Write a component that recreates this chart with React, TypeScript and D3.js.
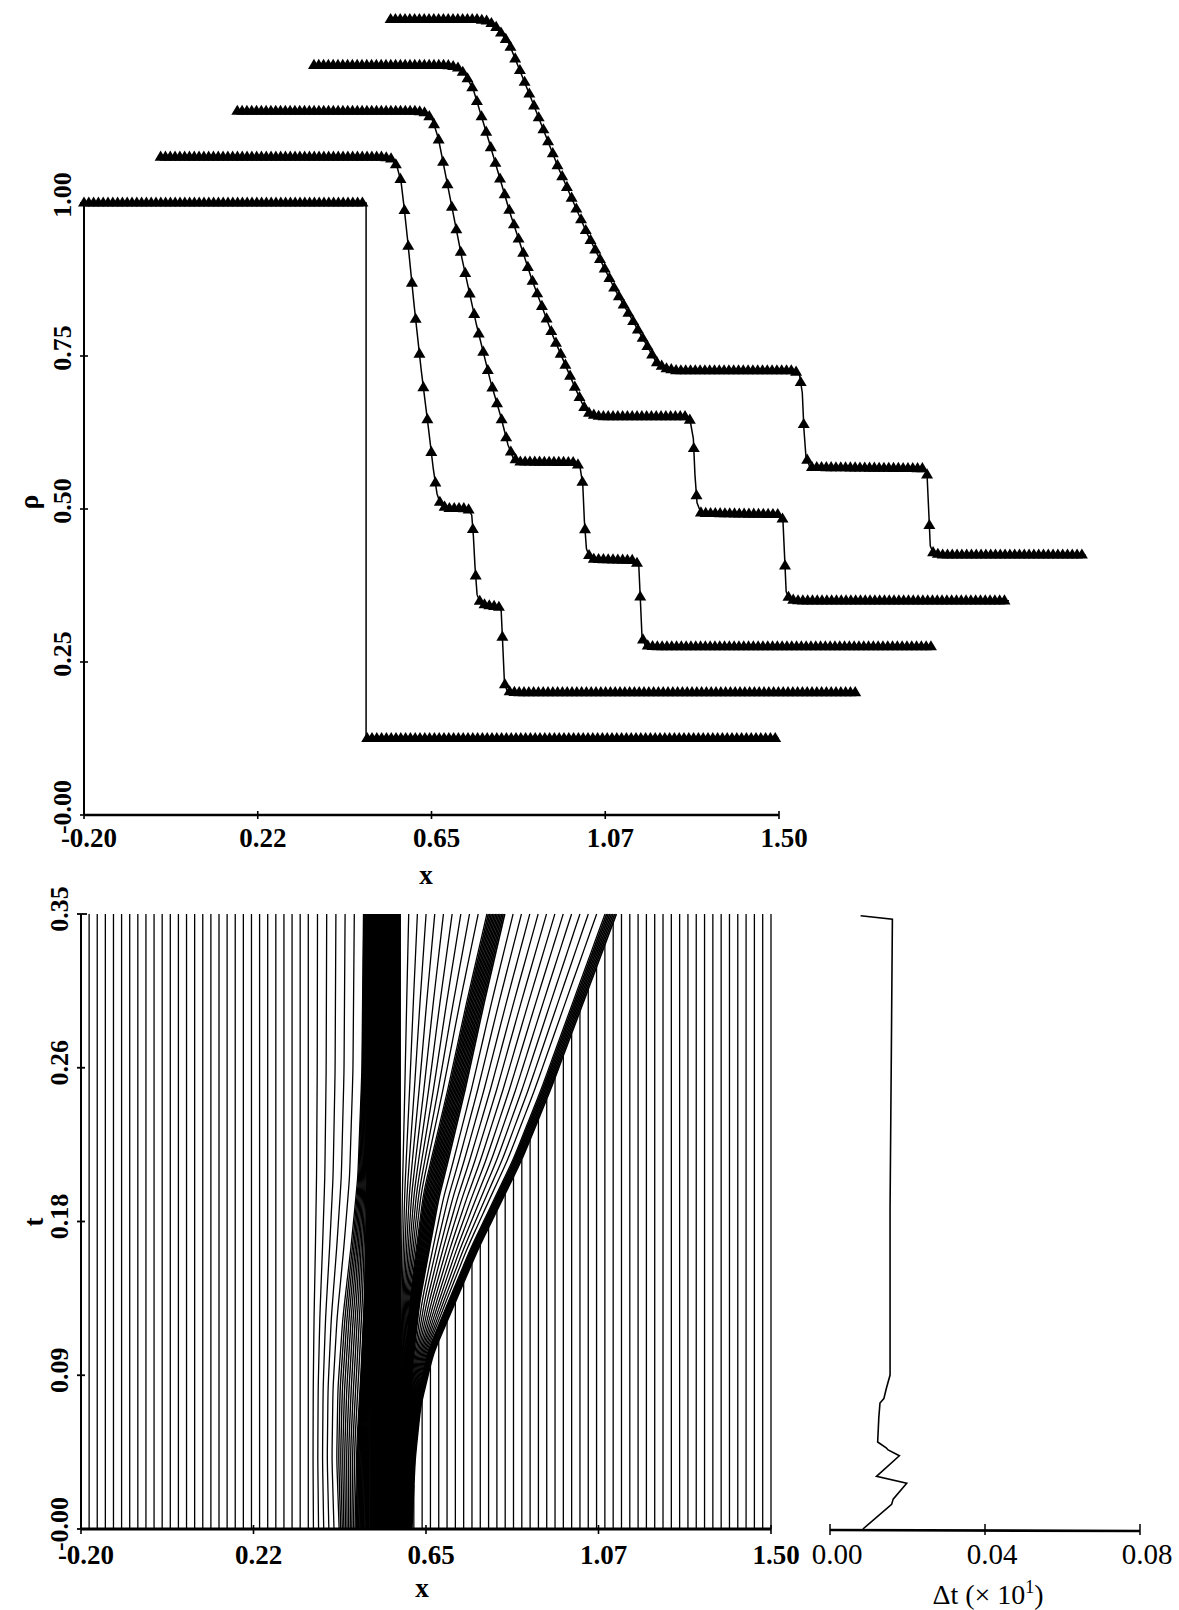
import React from 'react';
import * as d3 from 'd3';

const W = 1179;
const H = 1610;

// ---------- top chart: density profiles (waterfall) ----------
const rhoXTicks = [-0.2, 0.225, 0.65, 1.075, 1.5];
const rhoXTickLabels = ['-0.20', '0.22', '0.65', '1.07', '1.50'];
const rhoYTicks = [0, 0.25, 0.5, 0.75, 1.0];
const rhoYTickLabels = ['-0.00', '0.25', '0.50', '0.75', '1.00'];
const profileTimes = [0, 0.0875, 0.175, 0.2625, 0.35];
const shiftX = 0.1875;
const shiftRho = 0.075;

const rhoProfile0: [number, number][] = [[-0.2, 1], [0.49, 1], [0.49, 0.125], [1.5, 0.125]];
const rhoProfile1: [number, number][] = [[-0.2, 1], [0.345, 1], [0.365, 0.997], [0.378, 0.985], [0.388, 0.96], [0.396, 0.915], [0.404, 0.865], [0.42, 0.758], [0.4375, 0.651], [0.455, 0.557], [0.467, 0.49], [0.476, 0.45], [0.485, 0.432], [0.5, 0.426], [0.54, 0.426], [0.553, 0.424], [0.561, 0.415], [0.565, 0.38], [0.569, 0.33], [0.574, 0.285], [0.583, 0.27], [0.61, 0.266], [0.626, 0.266], [0.633, 0.258], [0.637, 0.2], [0.641, 0.14], [0.648, 0.127], [0.67, 0.125], [1.5, 0.125]];
const rhoProfile2: [number, number][] = [[-0.2, 1], [0.24, 1], [0.262, 0.997], [0.278, 0.985], [0.292, 0.955], [0.315, 0.877], [0.35, 0.758], [0.385, 0.651], [0.42, 0.557], [0.445, 0.5], [0.462, 0.455], [0.475, 0.433], [0.49, 0.427], [0.625, 0.426], [0.638, 0.42], [0.645, 0.39], [0.649, 0.33], [0.654, 0.285], [0.664, 0.268], [0.772, 0.266], [0.782, 0.258], [0.786, 0.2], [0.79, 0.14], [0.798, 0.127], [0.82, 0.125], [1.5, 0.125]];
const rhoProfile3: [number, number][] = [[-0.2, 1], [0.125, 1], [0.15, 0.997], [0.17, 0.985], [0.19, 0.96], [0.2275, 0.877], [0.28, 0.758], [0.3325, 0.651], [0.385, 0.557], [0.4375, 0.475], [0.46, 0.442], [0.475, 0.43], [0.5, 0.426], [0.708, 0.426], [0.72, 0.42], [0.728, 0.39], [0.732, 0.33], [0.737, 0.285], [0.747, 0.268], [0.937, 0.266], [0.947, 0.258], [0.951, 0.2], [0.955, 0.14], [0.963, 0.127], [0.985, 0.125], [1.5, 0.125]];
const rhoProfile4: [number, number][] = [[-0.2, 1], [0.01, 1], [0.04, 0.997], [0.062, 0.985], [0.09, 0.96], [0.14, 0.877], [0.21, 0.758], [0.28, 0.651], [0.35, 0.557], [0.42, 0.475], [0.45, 0.44], [0.47, 0.43], [0.5, 0.426], [0.787, 0.426], [0.8, 0.42], [0.807, 0.39], [0.811, 0.33], [0.816, 0.285], [0.826, 0.268], [1.102, 0.266], [1.112, 0.258], [1.116, 0.2], [1.12, 0.14], [1.128, 0.127], [1.15, 0.125], [1.5, 0.125]];
const rhoProfiles = [rhoProfile0, rhoProfile1, rhoProfile2, rhoProfile3, rhoProfile4];

// ---------- bottom chart: mesh trajectories ----------
const tTicks = [0, 0.0875, 0.175, 0.2625, 0.35];
const tTickLabels = ['-0.00', '0.09', '0.18', '0.26', '0.35'];
const meshXTicks = rhoXTicks;
const meshXTickLabels = rhoXTickLabels;
// feature paths [t, x]
const grayEdgePath: [number, number][] = [[0, 0.436], [0.04, 0.43], [0.08, 0.433], [0.12, 0.445], [0.16, 0.465], [0.2, 0.482], [0.26, 0.492], [0.35, 0.496]];
const blackEdgePath: [number, number][] = [[0, 0.475], [0.05, 0.48], [0.09, 0.49], [0.13, 0.498], [0.2, 0.505], [0.35, 0.507]];
const columnLeft = 0.512;
const columnRight = 0.586;
const contactPath: [number, number][] = [[0, 0.598], [0.05, 0.601], [0.09, 0.607], [0.13, 0.622], [0.19, 0.663], [0.25, 0.725], [0.3, 0.772], [0.35, 0.822]];
const contactHalfWidth: [number, number][] = [[0, 0.003], [0.1, 0.009], [0.2, 0.021], [0.35, 0.022]];
const shockPath: [number, number][] = [[0, 0.612], [0.04, 0.618], [0.07, 0.63], [0.1, 0.66], [0.13, 0.715], [0.16, 0.77], [0.21, 0.875], [0.25, 0.945], [0.3, 1.025], [0.35, 1.105]];
const shockHalfWidth: [number, number][] = [[0, 0.003], [0.1, 0.008], [0.35, 0.014]];
const rightMeshStart = 0.62;
const rightMeshCount = 43;

// ---------- right chart: time step ----------
const dtTicks = [0, 0.04, 0.08];
const dtTickLabels = ['0.00', '0.04', '0.08'];
const dtTimes = [0, 0.014, 0.017, 0.026, 0.03, 0.0417, 0.045, 0.0462, 0.0495, 0.0635, 0.0717, 0.0742, 0.0797, 0.0876, 0.183, 0.263, 0.347, 0.349];
const dtValues = [0.0085, 0.0159, 0.0163, 0.0198, 0.012, 0.0179, 0.015, 0.0145, 0.0123, 0.0126, 0.0129, 0.0139, 0.0145, 0.0155, 0.0155, 0.0158, 0.0161, 0.0079];

// ---------- scales ----------
const xTop = d3.scaleLinear().domain([-0.2, 1.5]).range([84, 779]);
const yTop = d3.scaleLinear().domain([0, 1]).range([815, 203]);
const xBot = d3.scaleLinear().domain([-0.2, 1.5]).range([81, 771]);
const tBot = d3.scaleLinear().domain([0, 0.35]).range([1529, 914]);
const xDt = d3.scaleLinear().domain([0, 0.08]).range([830, 1140]);

const FONT = '"Liberation Serif", "DejaVu Serif", serif';

function interp(path: [number, number][], t: number): number {
  if (t <= path[0][0]) return path[0][1];
  for (let i = 0; i < path.length - 1; i++) {
    const [t0, x0] = path[i];
    const [t1, x1] = path[i + 1];
    if (t <= t1) return x0 + (x1 - x0) * (t - t0) / (t1 - t0);
  }
  return path[path.length - 1][1];
}

function markerPoints(pts: [number, number][], step: number, k: number): [number, number][] {
  const out: [number, number][] = [pts[0]];
  let carry = 0;
  for (let i = 0; i < pts.length - 1; i++) {
    const [x0, y0] = pts[i];
    const [x1, y1] = pts[i + 1];
    const dx = x1 - x0, dy = y1 - y0;
    if (Math.abs(dx) < 0.01) continue;
    const L = Math.hypot(dx, dy / k);
    let pos = step - carry;
    while (pos <= L) {
      const f = pos / L;
      out.push([x0 + dx * f, y0 + dy * f]);
      pos += step;
    }
    carry = L - (pos - step);
  }
  return out;
}

const timeGrid = d3.range(0, 36).map((i) => +(i * 0.01).toFixed(3));

type Group = { left: (t: number) => number; right: (t: number) => number; n: number; first?: boolean; w: number };
type MeshLine = { pts: [number, number][]; w: number };

function buildMesh(): MeshLine[] {
  const cL = (t: number) => interp(contactPath, t) - interp(contactHalfWidth, t);
  const cR = (t: number) => interp(contactPath, t) + interp(contactHalfWidth, t);
  const sL = (t: number) => interp(shockPath, t) - interp(shockHalfWidth, t);
  const sR = (t: number) => interp(shockPath, t) + interp(shockHalfWidth, t);
  const groups: Group[] = [
    { left: () => -0.2, right: () => 0.36, n: 28, first: true, w: 1.3 },
    { left: () => 0.36, right: (t) => interp(grayEdgePath, t), n: 6, w: 1.3 },
    { left: (t) => interp(grayEdgePath, t), right: (t) => interp(blackEdgePath, t), n: 10, w: 1.4 },
    { left: (t) => interp(blackEdgePath, t), right: () => columnLeft, n: 12, w: 1.8 },
    { left: () => columnLeft, right: () => columnRight, n: 30, w: 1.9 },
    { left: () => columnRight, right: cL, n: 10, w: 1.3 },
    { left: cL, right: cR, n: 12, w: 1.7 },
    { left: cR, right: sL, n: 12, w: 1.3 },
    { left: sL, right: sR, n: 7, w: 1.7 },
  ];
  const lines: MeshLine[] = [];
  groups.forEach((g) => {
    for (let j = g.first ? 0 : 1; j <= g.n; j++) {
      lines.push({
        w: g.w,
        pts: timeGrid.map((t) => {
          const a = g.left(t), b = g.right(t);
          return [t, a + (b - a) * j / g.n] as [number, number];
        }),
      });
    }
  });
  const h = (1.5 - rightMeshStart) / rightMeshCount;
  for (let k = 0; k <= rightMeshCount; k++) {
    const x0 = rightMeshStart + k * h;
    let tEnd = 0.35;
    for (let i = 0; i < timeGrid.length - 1; i++) {
      const a = sR(timeGrid[i]), b = sR(timeGrid[i + 1]);
      if (a <= x0 && b > x0) {
        tEnd = timeGrid[i] + (timeGrid[i + 1] - timeGrid[i]) * (x0 - a) / (b - a);
        break;
      }
    }
    lines.push({ w: 1.3, pts: [[0, x0], [tEnd, x0]] });
  }
  return lines;
}

const meshLine = d3.line<[number, number]>().x((d) => xBot(d[1])).y((d) => tBot(d[0])).curve(d3.curveBasis);

export default function App() {
  const profileLine = d3.line<[number, number]>().x((d) => d[0]).y((d) => d[1]);
  const profilesPx = rhoProfiles.map((p, i) => p.map(([x, r]) => [xTop(x + i * shiftX), yTop(r + i * shiftRho)] as [number, number]));
  const mesh = buildMesh();
  const dtPts = dtTimes.map((t, i) => [xDt(dtValues[i]), tBot(t)] as [number, number]);
  const tri = 'M0,-6.5L6,3.6L-6,3.6Z';

  return (
    <svg width={W} height={H} style={{ position: 'absolute', left: 0, top: 0, background: '#fff' }} fontFamily={FONT}>
      <rect width={W} height={H} fill="#fff" />
      {/* ---- top chart ---- */}
      <g>
        {profilesPx.map((pts, i) => (
          <g key={i} data-time={profileTimes[i]}>
            <path d={profileLine(pts) || ''} fill="none" stroke="#000" strokeWidth={1.5} />
            {markerPoints(pts, 4.8, 12).map((p, k) => (
              <path key={k} d={tri} transform={`translate(${p[0]},${p[1]})`} fill="#000" />
            ))}
          </g>
        ))}
        <line x1={xTop(-0.2)} x2={xTop(-0.2)} y1={yTop(0)} y2={yTop(1)} stroke="#000" strokeWidth={2} />
        <line x1={xTop(-0.2)} x2={xTop(1.5)} y1={yTop(0)} y2={yTop(0)} stroke="#000" strokeWidth={2.6} />
        {rhoYTicks.map((v, i) => (
          <g key={i}>
            <line x1={xTop(-0.2) - 4} x2={xTop(-0.2) + 4} y1={yTop(v)} y2={yTop(v)} stroke="#000" strokeWidth={1.6} />
            <text transform={`translate(62,${yTop(v) - 8}) rotate(-90)`} textAnchor="middle" dominantBaseline="central" fontSize={26} fontWeight="bold">{rhoYTickLabels[i]}</text>
          </g>
        ))}
        {rhoXTicks.map((v, i) => (
          <g key={i}>
            <line x1={xTop(v)} x2={xTop(v)} y1={yTop(0) - 4} y2={yTop(0) + 4} stroke="#000" strokeWidth={1.6} />
            <text x={xTop(v) + 5} y={847} textAnchor="middle" fontSize={27} fontWeight="bold">{rhoXTickLabels[i]}</text>
          </g>
        ))}
        <text x={426} y={884} textAnchor="middle" fontSize={27} fontWeight="bold">x</text>
        <text transform="translate(28,502) rotate(-90)" textAnchor="middle" dominantBaseline="central" fontSize={28} fontWeight="bold">ρ</text>
      </g>

      {/* ---- bottom chart: mesh ---- */}
      <g>
        {mesh.map((l, i) => (
          <path key={i} d={meshLine(l.pts) || ''} fill="none" stroke="#000" strokeWidth={l.w} />
        ))}
        <line x1={xBot(-0.2)} x2={xBot(-0.2)} y1={tBot(0)} y2={tBot(0.35)} stroke="#000" strokeWidth={2} />
        <line x1={xBot(-0.2)} x2={xBot(1.5)} y1={tBot(0)} y2={tBot(0)} stroke="#000" strokeWidth={3} />
        {tTicks.map((v, i) => (
          <g key={i}>
            <line x1={xBot(-0.2) - 4} x2={xBot(-0.2) + (i === 4 ? 6 : 4)} y1={tBot(v)} y2={tBot(v)} stroke="#000" strokeWidth={1.8} />
            <text transform={`translate(59,${tBot(v) - 5}) rotate(-90)`} textAnchor="middle" dominantBaseline="central" fontSize={26} fontWeight="bold">{tTickLabels[i]}</text>
          </g>
        ))}
        {meshXTicks.map((v, i) => (
          <g key={i}>
            <line x1={xBot(v)} x2={xBot(v)} y1={tBot(0) - 4} y2={tBot(0) + 5} stroke="#000" strokeWidth={1.6} />
            <text x={xBot(v) + 5} y={1564} textAnchor="middle" fontSize={27} fontWeight="bold">{meshXTickLabels[i]}</text>
          </g>
        ))}
        <text x={422} y={1597} textAnchor="middle" fontSize={27} fontWeight="bold">x</text>
        <text transform="translate(34,1222) rotate(-90)" textAnchor="middle" dominantBaseline="central" fontSize={27} fontWeight="bold">t</text>
      </g>

      {/* ---- right chart: time step ---- */}
      <g>
        <path d={d3.line()(dtPts) || ''} fill="none" stroke="#000" strokeWidth={1.6} />
        <line x1={xDt(0)} x2={xDt(0.08)} y1={1530} y2={1531} stroke="#000" strokeWidth={2.6} />
        {dtTicks.map((v, i) => (
          <g key={i}>
            <line x1={xDt(v)} x2={xDt(v)} y1={1524} y2={1535} stroke="#000" strokeWidth={1.5} />
            <text x={xDt(v) + 7} y={1564} textAnchor="middle" fontSize={29}>{dtTickLabels[i]}</text>
          </g>
        ))}
        <text x={988} y={1604} textAnchor="middle" fontSize={28}>
          Δt (× 10<tspan dy={-11} fontSize={18}>1</tspan><tspan dy={11}>)</tspan>
        </text>
      </g>
    </svg>
  );
}
